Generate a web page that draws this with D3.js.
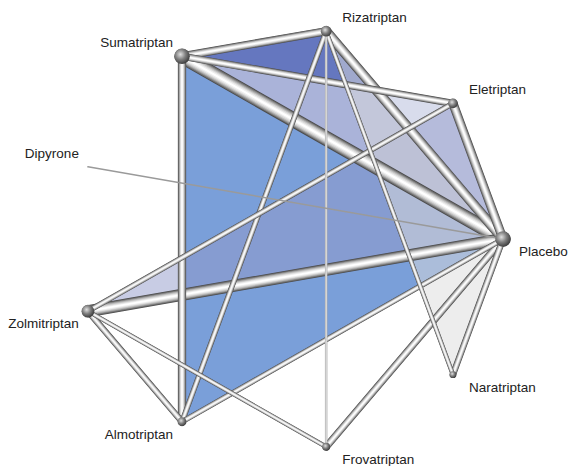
<!DOCTYPE html>
<html lang="en">
<head>
<meta charset="utf-8">
<script src="https://d3js.org/d3.v7.min.js"></script>
<style>
  body { margin: 0; background: #fff; }
  text { font-family: "Liberation Sans", Arial, sans-serif; font-size: 13.5px; fill: #222; }
</style>
</head>
<body>
<script>
// treatments, placed clockwise round the circle starting from Placebo
const treatments = ["Placebo", "Naratriptan", "Frovatriptan", "Almotriptan", "Zolmitriptan",
                    "Dipyrone", "Sumatriptan", "Rizatriptan", "Eletriptan"];

// direct comparisons: [a, b, number of trials]
const comparisons = [
  ["Sumatriptan", "Placebo", 14],
  ["Zolmitriptan", "Placebo", 11],
  ["Rizatriptan", "Placebo", 9],
  ["Eletriptan", "Placebo", 8],
  ["Sumatriptan", "Rizatriptan", 7],
  ["Sumatriptan", "Almotriptan", 7],
  ["Frovatriptan", "Placebo", 6],
  ["Sumatriptan", "Eletriptan", 6],
  ["Zolmitriptan", "Almotriptan", 5],
  ["Naratriptan", "Placebo", 5],
  ["Rizatriptan", "Almotriptan", 4],
  ["Eletriptan", "Zolmitriptan", 4],
  ["Almotriptan", "Placebo", 4],
  ["Rizatriptan", "Naratriptan", 3],
  ["Zolmitriptan", "Frovatriptan", 3],
  ["Rizatriptan", "Frovatriptan", 1],
  ["Dipyrone", "Placebo", 1]
];

// multi-arm trials (shaded triangles)
const multiArm = [
  ["Sumatriptan", "Almotriptan", "Placebo"],
  ["Sumatriptan", "Rizatriptan", "Placebo"],
  ["Sumatriptan", "Eletriptan", "Placebo"],
  ["Zolmitriptan", "Eletriptan", "Placebo"],
  ["Rizatriptan", "Naratriptan", "Placebo"]
];

const W = 568, H = 466;
const cx = 289, cy = 239, rx = 214, ry = 211;

const svg = d3.select("body").append("svg")
  .attr("width", W).attr("height", H);

const angle = d3.scaleLinear().domain([0, treatments.length]).range([0, 2 * Math.PI]);
const pos = {};
treatments.forEach(function(t, i) {
  const a = angle(i);
  pos[t] = { x: cx + rx * Math.cos(a), y: cy + ry * Math.sin(a), a: a };
});

const width = d3.scaleLinear().domain([1, 14]).range([2.5, 15]);

// triangles
const fills = [
  { fill: "rgb(122,159,217)", op: 1 },
  { fill: "rgb(101,119,191)", op: 1 },
  { fill: "rgb(199,205,228)", op: 0.7 },
  { fill: "rgb(145,153,201)", op: 0.5 },
  { fill: "rgb(219,219,219)", op: 0.5 }
];
svg.append("g").selectAll("path")
  .data(multiArm)
  .join("path")
  .attr("d", function(d) {
    return d3.line()(d.map(function(t) { return [pos[t].x, pos[t].y]; })) + "Z";
  })
  .attr("fill", function(d, i) { return fills[i].fill; })
  .attr("fill-opacity", function(d, i) { return fills[i].op; });

// tubes, thickest first so thin ones cross on top
const sorted = comparisons.slice().sort(function(a, b) { return b[2] - a[2]; });
const layers = [
  { k: 1.0, c: "#4c4c4c" },
  { k: 0.88, c: "#727272" },
  { k: 0.74, c: "#989898" },
  { k: 0.6, c: "#bbbbbb" },
  { k: 0.45, c: "#d8d8d8" },
  { k: 0.3, c: "#eeeeee" },
  { k: 0.14, c: "#ffffff" }
];
const edges = svg.append("g").attr("stroke-linecap", "round");
sorted.forEach(function(e) {
  const s = pos[e[0]], t = pos[e[1]];
  const w = width(e[2]);
  const g = edges.append("g");
  if (e[0] === "Dipyrone") {
    g.append("line")
      .attr("x1", s.x).attr("y1", s.y).attr("x2", t.x).attr("y2", t.y)
      .attr("stroke", "#9a9a9a").attr("stroke-width", 1.5);
    return;
  }
  if (e[2] <= 1) {
    g.append("line")
      .attr("x1", s.x).attr("y1", s.y).attr("x2", t.x).attr("y2", t.y)
      .attr("stroke", "#b0b0b0").attr("stroke-width", w);
    g.append("line")
      .attr("x1", s.x).attr("y1", s.y).attr("x2", t.x).attr("y2", t.y)
      .attr("stroke", "#f2f2f2").attr("stroke-width", w * 0.35);
    return;
  }
  layers.forEach(function(l) {
    g.append("line")
      .attr("x1", s.x).attr("y1", s.y).attr("x2", t.x).attr("y2", t.y)
      .attr("stroke", l.c).attr("stroke-width", Math.max(w * l.k, 0.6));
  });
});

// joints
const grad = svg.append("defs").append("radialGradient")
  .attr("id", "ball").attr("cx", "40%").attr("cy", "38%").attr("r", "65%");
grad.append("stop").attr("offset", "0%").attr("stop-color", "#e0e0e0");
grad.append("stop").attr("offset", "50%").attr("stop-color", "#808080");
grad.append("stop").attr("offset", "100%").attr("stop-color", "#383838");

const maxW = {};
comparisons.forEach(function(e) {
  if (e[2] <= 1) return;
  [e[0], e[1]].forEach(function(t) { maxW[t] = Math.max(maxW[t] || 0, width(e[2])); });
});
svg.append("g").selectAll("circle")
  .data(treatments.filter(function(t) { return maxW[t]; }))
  .join("circle")
  .attr("cx", function(t) { return pos[t].x; })
  .attr("cy", function(t) { return pos[t].y; })
  .attr("r", function(t) { return maxW[t] / 2 + 0.3; })
  .attr("fill", "url(#ball)");

// labels
svg.append("g").selectAll("text")
  .data(treatments)
  .join("text")
  .attr("x", function(t) { return Math.cos(pos[t].a) > 0.1 ? pos[t].x + 16 : pos[t].x - 9; })
  .attr("y", function(t) { return Math.sin(pos[t].a) >= 0 ? pos[t].y + 17 : pos[t].y - 9; })
  .attr("text-anchor", function(t) { return Math.cos(pos[t].a) > 0.1 ? "start" : "end"; })
  .text(function(t) { return t; });
</script>
</body>
</html>
